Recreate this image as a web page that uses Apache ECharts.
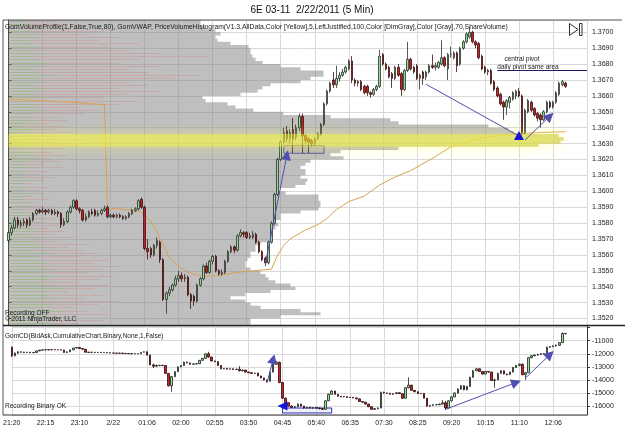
<!DOCTYPE html>
<html>
<head>
<meta charset="utf-8">
<script src="https://cdn.jsdelivr.net/npm/echarts@6/dist/echarts.min.js"></script>
<style>
  html, body { margin: 0; padding: 0; background: #fff; }
  #stage { width: 625px; height: 442px; }
</style>
</head>
<body>
<div id="stage"></div>
<script>
'use strict';

const myChart = echarts.init(document.getElementById('stage'));
const FONT = 'Liberation Sans';

// time axis: one label every 11 bars
const TIMELABELS = ['21:20', '22:15', '23:10', '2/22', '01:06', '02:00', '02:55', '03:50', '04:45',
  '05:40', '06:35', '07:30', '08:25', '09:20', '10:15', '11:10', '12:06'];
const SLOTS = 188; // 181 bars + room on the right

// 6E 5 min bars [open, close, low, high]
const priceBars = [
  [1.3569,1.3574,1.3567,1.3575],[1.3574,1.3577,1.3572,1.3579],[1.3577,1.3582,1.3576,1.3584],[1.3582,1.3579,1.3577,1.3584],
  [1.3579,1.3580,1.3577,1.3582],[1.3580,1.3581,1.3578,1.3583],[1.3582,1.3579,1.3577,1.3583],[1.3579,1.3582,1.3578,1.3584],
  [1.3582,1.3586,1.3581,1.3587],[1.3586,1.3588,1.3585,1.3589],[1.3588,1.3587,1.3586,1.3589],[1.3587,1.3588,1.3586,1.3590],
  [1.3588,1.3587,1.3585,1.3589],[1.3587,1.3588,1.3586,1.3589],[1.3588,1.3586,1.3585,1.3589],[1.3586,1.3587,1.3585,1.3589],
  [1.3587,1.3586,1.3584,1.3588],[1.3586,1.3579,1.3577,1.3587],[1.3579,1.3581,1.3578,1.3583],[1.3581,1.3587,1.3580,1.3588],
  [1.3587,1.3590,1.3586,1.3591],[1.3590,1.3594,1.3589,1.3595],[1.3594,1.3589,1.3588,1.3595],[1.3589,1.3588,1.3586,1.3590],
  [1.3588,1.3582,1.3581,1.3589],[1.3582,1.3584,1.3581,1.3586],[1.3584,1.3587,1.3583,1.3588],[1.3587,1.3586,1.3585,1.3589],
  [1.3588,1.3585,1.3584,1.3589],[1.3585,1.3586,1.3584,1.3588],[1.3586,1.3588,1.3585,1.3589],[1.3588,1.3589,1.3587,1.3591],
  [1.3590,1.3584,1.3583,1.3591],[1.3584,1.3585,1.3583,1.3586],[1.3585,1.3584,1.3583,1.3586],[1.3584,1.3585,1.3583,1.3586],
  [1.3585,1.3584,1.3583,1.3586],[1.3584,1.3583,1.3582,1.3585],[1.3583,1.3584,1.3582,1.3585],[1.3584,1.3586,1.3583,1.3587],
  [1.3586,1.3588,1.3585,1.3589],[1.3588,1.3589,1.3587,1.3590],[1.3589,1.3594,1.3588,1.3595],[1.3595,1.3590,1.3589,1.3596],
  [1.3590,1.3564,1.3563,1.3591],[1.3564,1.3562,1.3557,1.3570],[1.3564,1.3560,1.3558,1.3565],[1.3560,1.3566,1.3559,1.3567],
  [1.3566,1.3569,1.3564,1.3571],[1.3568,1.3557,1.3555,1.3569],[1.3557,1.3532,1.3531,1.3558],[1.3532,1.3536,1.3523,1.3537],
  [1.3536,1.3538,1.3534,1.3540],[1.3538,1.3541,1.3537,1.3542],[1.3541,1.3545,1.3540,1.3547],[1.3545,1.3547,1.3543,1.3550],
  [1.3547,1.3545,1.3543,1.3549],[1.3545,1.3546,1.3543,1.3548],[1.3546,1.3535,1.3534,1.3547],[1.3535,1.3531,1.3526,1.3536],
  [1.3534,1.3531,1.3528,1.3535],[1.3531,1.3541,1.3530,1.3542],[1.3541,1.3545,1.3540,1.3546],[1.3545,1.3553,1.3544,1.3554],
  [1.3553,1.3549,1.3548,1.3555],[1.3549,1.3556,1.3548,1.3557],[1.3556,1.3559,1.3554,1.3560],[1.3559,1.3550,1.3549,1.3560],
  [1.3550,1.3548,1.3547,1.3551],[1.3548,1.3549,1.3547,1.3551],[1.3549,1.3556,1.3548,1.3557],[1.3556,1.3562,1.3555,1.3563],
  [1.3562,1.3565,1.3561,1.3566],[1.3565,1.3563,1.3561,1.3566],[1.3563,1.3572,1.3562,1.3573],[1.3572,1.3574,1.3571,1.3576],
  [1.3574,1.3573,1.3571,1.3575],[1.3574,1.3571,1.3570,1.3575],[1.3571,1.3572,1.3570,1.3574],[1.3571,1.3573,1.3570,1.3575],
  [1.3573,1.3568,1.3567,1.3574],[1.3568,1.3562,1.3561,1.3569],[1.3562,1.3557,1.3556,1.3563],[1.3558,1.3555,1.3553,1.3559],
  [1.3555,1.3568,1.3554,1.3569],[1.3568,1.3580,1.3567,1.3581],[1.3580,1.3598,1.3579,1.3599],[1.3598,1.3620,1.3597,1.3621],
  [1.3620,1.3631,1.3619,1.3632],[1.3631,1.3637,1.3630,1.3640],[1.3638,1.3633,1.3631,1.3641],[1.3633,1.3637,1.3630,1.3639],
  [1.3639,1.3633,1.3624,1.3646],[1.3634,1.3640,1.3632,1.3642],[1.3640,1.3647,1.3638,1.3649],[1.3647,1.3635,1.3624,1.3649],
  [1.3635,1.3632,1.3630,1.3636],[1.3633,1.3631,1.3624,1.3634],[1.3632,1.3630,1.3628,1.3633],[1.3630,1.3633,1.3629,1.3634],
  [1.3633,1.3636,1.3632,1.3637],[1.3636,1.3642,1.3635,1.3643],[1.3642,1.3655,1.3641,1.3656],[1.3655,1.3663,1.3654,1.3664],
  [1.3663,1.3668,1.3662,1.3669],[1.3670,1.3667,1.3665,1.3675],[1.3667,1.3671,1.3665,1.3679],[1.3671,1.3673,1.3669,1.3675],
  [1.3673,1.3675,1.3672,1.3677],[1.3675,1.3678,1.3674,1.3679],[1.3677,1.3682,1.3676,1.3683],[1.3682,1.3670,1.3668,1.3685],
  [1.3670,1.3668,1.3666,1.3671],[1.3668,1.3669,1.3666,1.3670],[1.3669,1.3664,1.3663,1.3670],[1.3666,1.3662,1.3661,1.3667],
  [1.3666,1.3662,1.3660,1.3667],[1.3662,1.3661,1.3659,1.3663],[1.3661,1.3664,1.3660,1.3665],[1.3664,1.3666,1.3663,1.3667],
  [1.3666,1.3685,1.3665,1.3689],[1.3686,1.3680,1.3679,1.3687],[1.3680,1.3677,1.3676,1.3681],[1.3678,1.3672,1.3671,1.3679],
  [1.3674,1.3671,1.3665,1.3675],[1.3671,1.3678,1.3670,1.3679],[1.3678,1.3673,1.3672,1.3680],[1.3674,1.3664,1.3660,1.3675],
  [1.3664,1.3676,1.3663,1.3677],[1.3676,1.3683,1.3675,1.3694],[1.3683,1.3677,1.3676,1.3684],[1.3678,1.3675,1.3674,1.3679],
  [1.3679,1.3671,1.3670,1.3680],[1.3671,1.3673,1.3664,1.3674],[1.3675,1.3671,1.3667,1.3676],[1.3672,1.3675,1.3670,1.3676],
  [1.3675,1.3679,1.3674,1.3680],[1.3679,1.3678,1.3677,1.3686],[1.3678,1.3679,1.3676,1.3681],[1.3678,1.3681,1.3677,1.3682],
  [1.3680,1.3684,1.3679,1.3695],[1.3684,1.3679,1.3678,1.3685],[1.3677,1.3686,1.3670,1.3687],[1.3686,1.3686,1.3684,1.3691],
  [1.3684,1.3687,1.3683,1.3688],[1.3687,1.3679,1.3675,1.3688],[1.3680,1.3690,1.3679,1.3691],[1.3690,1.3694,1.3689,1.3695],
  [1.3694,1.3699,1.3693,1.3700],[1.3697,1.3700,1.3696,1.37035],[1.3700,1.3694,1.3693,1.3701],[1.3694,1.3692,1.3690,1.3695],
  [1.3693,1.3684,1.3683,1.3694],[1.3685,1.3677,1.3676,1.3686],[1.3678,1.3675,1.3674,1.3679],[1.3675,1.3676,1.3673,1.3677],
  [1.3676,1.3668,1.3667,1.3677],[1.3669,1.3664,1.3663,1.3670],[1.3665,1.3660,1.3659,1.3666],[1.3661,1.3655,1.3654,1.3662],
  [1.3656,1.3653,1.3645,1.3657],[1.3653,1.3657,1.3648,1.3658],[1.3656,1.3659,1.3652,1.3660],[1.3658,1.3662,1.3657,1.3663],
  [1.3660,1.3663,1.3658,1.3664],[1.3663,1.3660,1.3659,1.3665],[1.3660,1.3637,1.3635,1.3661],[1.3637,1.3651,1.3636,1.3652],
  [1.3650,1.3657,1.3649,1.3658],[1.3656,1.3651,1.3650,1.3657],[1.3652,1.3648,1.3647,1.3653],[1.3649,1.3646,1.3644,1.3650],
  [1.3648,1.3645,1.3640,1.3649],[1.3645,1.3650,1.3644,1.3651],[1.3650,1.3656,1.3649,1.3657],[1.3656,1.3653,1.3652,1.3657],
  [1.3653,1.3656,1.3652,1.3657],[1.3656,1.3662,1.3655,1.3663],[1.3661,1.3668,1.3660,1.3669],[1.3667,1.3669,1.3666,1.3670],
  [1.3668,1.3666,1.3665,1.3669]
];

// GomCD cumulative delta bars [open, close, low, high]
const deltaBars = [
  [-11500,-12150,-12250,-11450],[-12150,-11950,-12200,-11900],[-11950,-11850,-12000,-11800],[-11850,-11880,-11920,-11830],
  [-11880,-11900,-11950,-11850],[-11900,-11880,-11920,-11850],[-11880,-11920,-11950,-11860],[-11920,-11900,-11950,-11880],
  [-11900,-11780,-11920,-11760],[-11780,-11720,-11800,-11700],[-11720,-11700,-11740,-11680],[-11700,-11690,-11720,-11670],
  [-11690,-11700,-11720,-11670],[-11700,-11680,-11710,-11660],[-11680,-11700,-11720,-11670],[-11700,-11690,-11720,-11670],
  [-11690,-11720,-11740,-11680],[-11720,-11900,-11920,-11700],[-11900,-11850,-11920,-11830],[-11850,-11700,-11860,-11680],
  [-11700,-11560,-11720,-11540],[-11560,-11520,-11580,-11480],[-11520,-11600,-11620,-11500],[-11600,-11650,-11680,-11590],
  [-11650,-11880,-11900,-11640],[-11880,-11890,-11910,-11870],[-11890,-11880,-11900,-11860],[-11880,-11900,-11920,-11870],
  [-11900,-11890,-11910,-11870],[-11890,-11910,-11930,-11880],[-11910,-11900,-11930,-11890],[-11900,-11920,-11940,-11890],
  [-11920,-11940,-11960,-11910],[-11940,-11950,-11970,-11930],[-11950,-11960,-11980,-11940],[-11960,-11950,-11980,-11930],
  [-11950,-11970,-11990,-11940],[-11970,-11980,-12000,-11960],[-11980,-11990,-12010,-11970],[-11990,-12000,-12020,-11980],
  [-12000,-11990,-12020,-11980],[-11990,-12000,-12020,-11980],[-12000,-11900,-12010,-11880],[-11880,-11850,-11900,-11820],
  [-11850,-12100,-12120,-11830],[-12100,-12850,-12870,-12080],[-12850,-12950,-13100,-12750],[-12950,-12900,-13000,-12820],
  [-12900,-12880,-12950,-12850],[-12880,-12900,-12950,-12860],[-12900,-13500,-13520,-12880],[-13500,-14450,-14500,-13480],
  [-14450,-13750,-14900,-13700],[-13750,-13370,-13780,-13350],[-13370,-13000,-13400,-12980],[-13000,-12900,-13020,-12880],
  [-12900,-12650,-12920,-12600],[-12650,-12700,-12720,-12600],[-12700,-12800,-12820,-12680],[-12800,-12780,-12820,-12760],
  [-12780,-12760,-12800,-12740],[-12760,-12500,-12780,-12480],[-12500,-12350,-12520,-12320],[-12350,-12000,-12380,-11980],
  [-12000,-12250,-12300,-11850],[-12250,-12550,-12580,-12230],[-12550,-12600,-12650,-12530],[-12600,-12900,-12920,-12580],
  [-12900,-13150,-13180,-12880],[-13150,-13120,-13180,-13100],[-13120,-13180,-13200,-13100],[-13180,-13150,-13200,-13130],
  [-13150,-13200,-13230,-13130],[-13200,-13180,-13230,-13150],[-13180,-13300,-13350,-12950],[-13300,-13250,-13350,-13200],
  [-13250,-13400,-13420,-13230],[-13400,-13450,-13480,-13380],[-13450,-13500,-13530,-13430],[-13500,-13480,-13530,-13460],
  [-13480,-13700,-13720,-13460],[-13700,-13850,-13880,-13680],[-13850,-14000,-14050,-13830],[-14000,-14100,-14200,-13980],
  [-14100,-13400,-14120,-13380],[-13400,-12800,-13420,-12780],[-12800,-12650,-12850,-12550],[-12650,-14200,-14250,-12600],
  [-14200,-15400,-15450,-14150],[-15400,-15750,-15800,-15350],[-15750,-16000,-16050,-15700],[-16000,-16100,-16150,-15950],
  [-16100,-16050,-16150,-16000],[-16050,-15850,-16080,-15800],[-15850,-16000,-16050,-15820],[-16000,-16150,-16200,-15980],
  [-16150,-16100,-16200,-16080],[-16100,-16150,-16180,-16050],[-16150,-16120,-16200,-16100],[-16120,-16150,-16200,-16100],
  [-16150,-16200,-16250,-16120],[-16200,-16250,-16300,-16150],[-16250,-15600,-16270,-15550],[-15600,-15100,-15620,-15050],
  [-15100,-14850,-15150,-14780],[-14850,-15100,-15120,-14830],[-15100,-15250,-15280,-15080],[-15250,-15300,-15330,-15230],
  [-15300,-15280,-15330,-15250],[-15280,-15350,-15380,-15260],[-15350,-15330,-15380,-15300],[-15330,-15380,-15400,-15310],
  [-15380,-15450,-15480,-15360],[-15450,-15650,-15680,-15430],[-15650,-15700,-15730,-15630],[-15700,-15850,-15880,-15680],
  [-15850,-16050,-16080,-15830],[-16050,-16250,-16280,-16030],[-16250,-16200,-16300,-16150],[-16200,-16150,-16250,-16100],
  [-16150,-14950,-16170,-14900],[-14950,-15000,-15050,-14900],[-15000,-15020,-15060,-14980],[-15020,-15100,-15130,-15000],
  [-15100,-15050,-15130,-15000],[-15050,-14980,-15080,-14950],[-14980,-15050,-15080,-14960],[-15050,-15400,-15450,-15030],
  [-15400,-14600,-15420,-14550],[-14600,-14400,-14650,-13800],[-14400,-14800,-14820,-14380],[-14800,-14900,-14950,-14780],
  [-14900,-15050,-15080,-14880],[-15050,-15030,-15080,-15000],[-15030,-15400,-15420,-15000],[-15400,-16000,-16050,-15380],
  [-16000,-15950,-16050,-15920],[-15950,-15900,-15980,-15870],[-15900,-15900,-15930,-15870],[-15900,-15850,-15920,-15820],
  [-15850,-15750,-15880,-15550],[-15750,-16150,-16300,-15600],[-16150,-15600,-16180,-15550],[-15600,-15300,-15650,-15250],
  [-15300,-15000,-15320,-14950],[-15000,-14700,-15050,-14650],[-14700,-14450,-14750,-14400],[-14450,-14750,-14800,-14430],
  [-14750,-14500,-14800,-14450],[-14500,-13800,-14520,-13750],[-13800,-13300,-13820,-13250],[-13300,-13150,-13320,-13100],
  [-13150,-13350,-13380,-13130],[-13350,-13550,-13580,-13330],[-13550,-13350,-13580,-13300],[-13350,-13400,-13450,-13330],
  [-13400,-14050,-14080,-13380],[-14050,-14000,-14600,-13900],[-14000,-13500,-14020,-13450],[-13500,-13300,-13520,-13250],
  [-13300,-13550,-13580,-13280],[-13550,-13600,-13650,-13530],[-13600,-13400,-13620,-13380],[-13400,-13050,-13420,-13000],
  [-13050,-12900,-13080,-12850],[-12900,-12800,-12950,-12750],[-12800,-13600,-13650,-12750],[-13600,-13450,-14000,-13400],
  [-13450,-12300,-13470,-12250],[-12300,-12150,-12350,-12100],[-12150,-12100,-12200,-12050],[-12100,-12050,-12150,-12000],
  [-12050,-11980,-12100,-11950],[-11980,-12000,-12050,-11950],[-12000,-11500,-12020,-11450],[-11500,-11450,-11550,-11400],
  [-11450,-11400,-11500,-11350],[-11400,-11350,-11450,-11300],[-11350,-11150,-11400,-11100],[-11150,-10450,-11170,-10350],
  [-10450,-10458,-10520,-10400]
];

// GomVWAP samples [bar, price] (resets at the 2/22 session start)
const vwap = [
  [0,1.36580],[10,1.36570],[20,1.36560],[31,1.36545],
  [32,1.35895],[38,1.35885],[43,1.35870],[46,1.35810],[48,1.35745],[50,1.35660],[52,1.35585],[55,1.35525],
  [58,1.35490],[63,1.35465],[68,1.35470],[74,1.35490],[79,1.35500],[85,1.35510],[87,1.35600],[89,1.35660],
  [91,1.35700],[96,1.35757],[100,1.35790],[103,1.35830],[106,1.35885],[110,1.35935],[115,1.35970],[120,1.36040],
  [125,1.36090],[130,1.36130],[135,1.36185],[138,1.36218],[143,1.36280],[148,1.36310],[152,1.36333],[158,1.36350],
  [163,1.36360],[170,1.36368],[180,1.36375]
];

// price volume histogram, rows of 2 ticks from histStart upwards
const histStart = 1.3516;
const histStep = 0.0002;
const histVolume = [
  242,242,272,312,292,252,242,237,222,237,262,287,282,267,260,257,252,242,237,237,
  239,242,242,247,247,252,260,262,262,262,267,270,267,272,272,292,310,312,312,310,
  310,277,270,287,297,299,292,297,297,292,297,302,335,322,332,390,530,552,555,550,
  505,500,480,390,382,322,275,245,227,219,197,194,232,249,254,262,292,302,315,315,
  292,272,254,247,244,242,242,240,222,209,207,212,207,197,192,192
];
const pocRange = [1.3628, 1.3634];

// GomVolumeProfile per row (same rows): buy and sell volume
const profileBuy = [
  45,30,50,40,55,35,45,30,50,40, 35,55,45,30,40,50,35,45,30,40, 35,30,45,25,35,30,25,35,20,30,
  25,20,30,15,25,20,15,25,20,15, 20,25,15,20,15,25,20,15,20,25, 15,20,30,20,25,15,30,20,25,15,
  20,25,15,20,30,25,20,35,25,30, 20,35,25,30,40,25,35,30,45,30, 25,35,40,30,25,35,20,30,25,20,
  30,20,25,15,20,15
];
const profileSell = [
  70,95,60,100,80,65,90,110,75,95, 60,85,100,70,90,105,80,95,110,85, 100,70,90,75,60,80,50,65,45,55,
  40,50,35,45,30,40,35,45,30,40, 25,35,30,40,25,35,45,30,40,55, 35,50,40,60,45,55,70,60,75,50,
  65,45,55,40,60,50,75,90,70,110, 130,95,120,150,110,140,120,165,190,140, 120,150,110,130,200,150,120,100,130,90,
  110,80,95,70,60,50
];

const lastPrice = 1.3666;
const lastVwap = 1.3637;
const lastDelta = -10458;

const slots = Array.from({ length: SLOTS }, (_, i) => String(i));
const rowPrice = (i) => +(histStart + i * histStep).toFixed(4);
const histRows = histVolume.map((v, i) => ({ p: rowPrice(i), v: v }));
const pocRows = histRows.filter(r => r.p >= pocRange[0] - 1e-7 && r.p <= pocRange[1] + 1e-7);
const profileRows = profileBuy.map((b, i) => [rowPrice(i) + histStep / 2, b, profileSell[i]]);

function stepPolygon(api, rows) {
  const pts = [api.coord([0, rows[0].p])];
  rows.forEach(r => {
    pts.push(api.coord([r.v, r.p]));
    pts.push(api.coord([r.v, r.p + histStep]));
  });
  pts.push(api.coord([0, rows[rows.length - 1].p + histStep]));
  return pts;
}

const everyLabel = (i) => i % 11 === 0;
const gridLine = { show: true, lineStyle: { color: '#d9d9d9', width: 1 } };
const ARROW = '#1414d8';
const ARROWLINE = '#5050b0';

const txt = (x, y, s, size, extra) => Object.assign({
  type: 'text', x: x, y: y, silent: true, z: 60,
  style: Object.assign({ text: s, fill: '#1a1a1a', font: size + 'px "' + FONT + '"', textVerticalAlign: 'middle' }, extra || {})
});
const ln = (x1, y1, x2, y2, w, c) => ({
  type: 'line', silent: true, z: 50, shape: { x1, y1, x2, y2 }, style: { stroke: c || '#444', lineWidth: w || 1 }
});

const option = {
  animation: false,
  backgroundColor: '#fff',
  grid: [
    { left: 8.5, right: 38, top: 20, height: 305 },
    { left: 8.5, right: 38, top: 326, height: 89 }
  ],
  xAxis: [
    { type: 'category', gridIndex: 0, data: slots, boundaryGap: false,
      axisLine: { show: false }, axisTick: { show: false }, axisLabel: { show: false },
      splitLine: Object.assign({ interval: everyLabel }, gridLine) },
    { type: 'category', gridIndex: 1, data: slots, boundaryGap: false,
      axisLine: { show: false }, axisTick: { show: false },
      axisLabel: { interval: everyLabel, formatter: (v, i) => TIMELABELS[i / 11], fontSize: 7, color: '#222', margin: 5, fontFamily: FONT },
      splitLine: Object.assign({ interval: everyLabel }, gridLine) },
    { type: 'value', gridIndex: 0, min: 0, max: 578.5, show: false }
  ],
  yAxis: [
    { type: 'value', gridIndex: 0, position: 'right', min: 1.351591, max: 1.370774,
      minInterval: 0.001, maxInterval: 0.001, splitNumber: 19,
      axisLine: { show: true, lineStyle: { color: '#333' } },
      axisTick: { show: true, length: 3, lineStyle: { color: '#333' } },
      axisLabel: { showMinLabel: false, showMaxLabel: false, fontSize: 7, color: '#222', margin: 5, fontFamily: FONT,
        formatter: v => v.toFixed(4) },
      splitLine: gridLine },
    { type: 'value', gridIndex: 1, position: 'right', min: -16685, max: -9875,
      minInterval: 1000, maxInterval: 1000, splitNumber: 7,
      axisLine: { show: true, lineStyle: { color: '#333' } },
      axisTick: { show: true, length: 3, lineStyle: { color: '#333' } },
      axisLabel: { showMinLabel: false, showMaxLabel: false, fontSize: 7, color: '#222', margin: 5, fontFamily: FONT,
        formatter: v => (v > -10500 ? '' : String(v)) },
      splitLine: gridLine }
  ],
  series: [
    {
      name: 'PriceVolumeHistogram', type: 'custom', xAxisIndex: 2, yAxisIndex: 0, z: 1, silent: true, clip: true,
      data: [[0, histStart]],
      renderItem: (params, api) => ({
        type: 'polygon', shape: { points: stepPolygon(api, histRows) },
        style: { fill: 'rgba(128,128,128,0.5)' }
      })
    },
    {
      // thin buy / sell lines of GomVolumeProfile
      name: 'GomVolumeProfile', type: 'custom', xAxisIndex: 2, yAxisIndex: 0, z: 1, silent: true, clip: true,
      data: profileRows,
      encode: { x: 2, y: 0 },
      renderItem: (params, api) => {
        const o = api.coord([0, api.value(0)]);
        const b = api.coord([api.value(1), api.value(0)]);
        const s = api.coord([api.value(2), api.value(0)]);
        const y = Math.round(o[1]) + 0.5;
        return {
          type: 'group',
          children: [
            { type: 'line', shape: { x1: o[0], y1: y, x2: s[0], y2: y }, style: { stroke: 'rgba(220,110,110,0.28)', lineWidth: 1 } },
            { type: 'line', shape: { x1: o[0], y1: y, x2: b[0], y2: y }, style: { stroke: 'rgba(90,215,90,0.32)', lineWidth: 1 } }
          ]
        };
      }
    },
    {
      name: 'GomVWAP', type: 'line', xAxisIndex: 0, yAxisIndex: 0, z: 2, silent: true,
      data: vwap, showSymbol: false, lineStyle: { color: '#d9a24e', width: 1 }
    },
    {
      name: '6E 03-11', type: 'candlestick', xAxisIndex: 0, yAxisIndex: 0, z: 3, silent: true, clip: false,
      data: priceBars, barWidth: 2,
      itemStyle: { color: '#92dc92', color0: '#c62020', borderColor: '#2e2e2e', borderColor0: '#3a1010', borderWidth: 0.8 }
    },
    {
      name: 'POC', type: 'custom', xAxisIndex: 2, yAxisIndex: 0, z: 4, silent: true, clip: true,
      data: [[0, pocRange[0]]],
      renderItem: (params, api) => ({
        type: 'polygon', shape: { points: stepPolygon(api, pocRows) },
        style: { fill: 'rgba(255,255,40,0.42)', shadowBlur: 14, shadowColor: 'rgba(255,255,90,0.95)' }
      })
    },
    {
      name: 'drawings', type: 'line', xAxisIndex: 0, yAxisIndex: 0, z: 6, silent: true, data: [],
      markLine: {
        silent: true, symbol: ['none', 'triangle'], symbolSize: 10, animation: false,
        label: { show: false }, lineStyle: { color: ARROWLINE, width: 1, type: 'solid' }, itemStyle: { color: ARROW },
        data: [
          [{ coord: [83, 1.35543] }, { coord: [90, 1.36228] }],
          [{ coord: [135, 1.36673], symbol: 'none' }, { coord: [165, 1.36348], symbol: 'none' }],
          [{ coord: [167, 1.36323] }, { coord: [175, 1.36473] }],
          [{ coord: [158, 1.36760], symbol: 'none', lineStyle: { color: '#1c1c66' } },
           { coord: [187, 1.36760], symbol: 'none' }]
        ]
      },
      markPoint: {
        silent: true, animation: false, label: { show: false },
        data: [{ coord: [165, 1.36351], symbol: 'triangle', symbolSize: [10, 9], itemStyle: { color: ARROW } }]
      },
      markArea: {
        silent: true, animation: false,
        itemStyle: { color: 'rgba(226,226,236,0.65)', borderColor: '#2c2cc0', borderWidth: 1 },
        data: [[{ coord: [89, 1.36287] }, { coord: [102, 1.36239] }]]
      }
    },
    {
      name: 'badges', type: 'line', xAxisIndex: 0, yAxisIndex: 0, z: 7, silent: true, data: [],
      markLine: {
        silent: true, symbol: 'none', animation: false, lineStyle: { opacity: 0 },
        label: { position: 'end', distance: 1, fontSize: 7, fontFamily: FONT, padding: [1, 3, 1, 3] },
        data: [
          { yAxis: lastPrice, label: { formatter: lastPrice.toFixed(4), color: '#fff', backgroundColor: '#000' } },
          { yAxis: lastVwap, label: { formatter: lastVwap.toFixed(4), color: '#402000', backgroundColor: '#f5a623' } }
        ]
      }
    },
    {
      name: 'GomCD', type: 'candlestick', xAxisIndex: 1, yAxisIndex: 1, z: 3, silent: true, clip: false,
      data: deltaBars, barWidth: 2,
      itemStyle: { color: '#92e892', color0: '#d42020', borderColor: '#1e1e1e', borderColor0: '#2a0a0a', borderWidth: 0.8 },
      markLine: {
        silent: true, symbol: ['none', 'triangle'], symbolSize: 10, animation: false,
        label: { show: false }, lineStyle: { color: ARROWLINE, width: 1, type: 'solid' }, itemStyle: { color: ARROW },
        data: [
          [{ coord: [83, -14213] }, { coord: [85, -12400] }],
          [{ coord: [141, -16250] }, { coord: [164, -14198] }],
          [{ coord: [167, -13854] }, { coord: [175, -12056] }],
          { yAxis: lastDelta, symbol: 'none', lineStyle: { opacity: 0 },
            label: { show: true, position: 'end', distance: 1, fontSize: 7, fontFamily: FONT, padding: [1, 3, 1, 3],
              formatter: String(lastDelta), color: '#402000', backgroundColor: '#f5a623' } }
        ]
      },
      markPoint: {
        silent: true, animation: false, label: { show: false },
        data: [{ coord: [88, -16000], symbol: 'triangle', symbolRotate: 90, symbolSize: [9, 10], itemStyle: { color: ARROW } }]
      },
      markArea: {
        silent: true, animation: false,
        itemStyle: { color: 'rgba(226,226,236,0.5)', borderColor: '#2c2cc0', borderWidth: 1 },
        data: [[{ coord: [88, -16150] }, { coord: [104, -16530] }]]
      }
    }
  ],
  graphic: [
    txt(312, 10, '6E 03-11  2/22/2011 (5 Min)', 10, { textAlign: 'center', fill: '#111' }),
    txt(5, 27, 'GomVolumeProfile(1,False,True,80), GomVWAP, PriceVolumeHistogram(V1.3,AllData,Color [Yellow],5,LeftJustified,100,Color [DimGray],Color [Gray],70,ShareVolume)', 6.8),
    txt(522, 59.5, 'central pivot', 6.5, { textAlign: 'center' }),
    txt(528, 67.5, 'daily pivot same area', 6.5, { textAlign: 'center' }),
    txt(5, 313, 'Recording OFF', 6.5),
    txt(5, 319.5, '\u00a9 2011 NinjaTrader, LLC', 6.5),
    txt(5, 336, 'GomCD(BidAsk,CumulativeChart,Binary,None,1,False)', 6.5),
    txt(5, 406, 'Recording Binary OK', 6.5),
    ln(3, 20, 622, 20, 1, '#555'),
    ln(3, 20, 3, 415, 1, '#555'),
    ln(3, 325.5, 625, 325.5, 1.5, '#222'),
    ln(3, 415, 587, 415, 1, '#333'),
    { type: 'polygon', silent: true, z: 60, shape: { points: [[569.5, 23.5], [569.5, 35.5], [578, 29.5]] },
      style: { fill: 'none', stroke: '#333', lineWidth: 1 } },
    { type: 'rect', silent: true, z: 60, shape: { x: 579.5, y: 23.5, width: 2.5, height: 12 },
      style: { fill: 'none', stroke: '#333', lineWidth: 1 } }
  ]
};

myChart.setOption(option);
</script>
</body>
</html>
